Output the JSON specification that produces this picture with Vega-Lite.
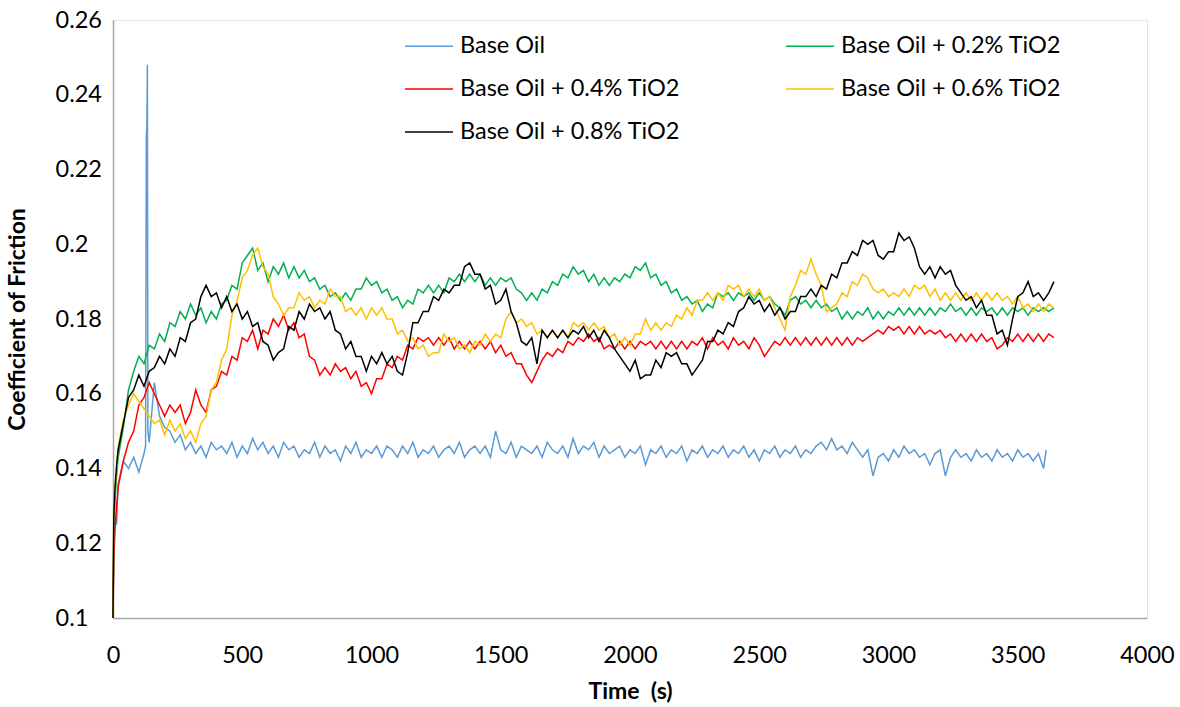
{
  "$schema": "https://vega.github.io/schema/vega-lite/v6.json",
  "width": 1034,
  "height": 598,
  "autosize": {"type": "none"},
  "padding": {"left": 113, "top": 20, "right": 33, "bottom": 89},
  "background": "white",
  "config": {"view": {"stroke": "#DCE6F2", "strokeWidth": 1}, "font": "Lato"},
  "data": {"values": [
    {"t":0,"a":0.1,"b":0.1,"c":0.1,"d":0.1,"e":0.1},
    {"t":3,"a":0.118,"b":0.124,"c":0.116,"d":0.125,"e":0.127},
    {"t":8,"a":0.128,"b":0.132,"c":0.124,"d":0.134,"e":0.135},
    {"t":14,"a":0.125,"b":0.138,"c":0.13,"d":0.14,"e":0.141},
    {"t":20,"a":0.136,"b":0.143,"c":0.135,"d":0.146,"e":0.145},
    {"t":40,"a":0.142,"b":0.151,"c":0.142,"d":0.153,"e":0.152},
    {"t":60,"a":0.140,"b":0.161,"c":0.147,"d":0.157,"e":0.159},
    {"t":80,"a":0.143,"b":0.166,"c":0.150,"d":0.160,"e":0.161},
    {"t":100,"a":0.139,"b":0.170,"c":0.157,"d":0.158,"e":0.165},
    {"t":120,"a":0.144,"b":0.168,"c":0.159,"d":0.156,"e":0.162},
    {"t":126,"a":0.146},
    {"t":129,"a":0.229},
    {"t":131,"a":0.231},
    {"t":133,"a":0.248},
    {"t":135,"a":0.150},
    {"t":140,"a":0.147,"b":0.173,"c":0.163,"d":0.154,"e":0.166},
    {"t":160,"a":0.163,"b":0.172,"c":0.160,"d":0.152,"e":0.167},
    {"t":180,"a":0.154,"b":0.176,"c":0.157,"d":0.153,"e":0.170},
    {"t":200,"a":0.151,"b":0.174,"c":0.154,"d":0.149,"e":0.168},
    {"t":220,"a":0.150,"b":0.179,"c":0.157,"d":0.153,"e":0.172},
    {"t":240,"a":0.147,"b":0.178,"c":0.155,"d":0.150,"e":0.170},
    {"t":260,"a":0.149,"b":0.182,"c":0.157,"d":0.152,"e":0.175},
    {"t":280,"a":0.145,"b":0.180,"c":0.152,"d":0.148,"e":0.174},
    {"t":300,"a":0.147,"b":0.184,"c":0.155,"d":0.150,"e":0.179},
    {"t":320,"a":0.144,"b":0.181,"c":0.161,"d":0.147,"e":0.180},
    {"t":340,"a":0.146,"b":0.183,"c":0.157,"d":0.152,"e":0.186},
    {"t":360,"a":0.143,"b":0.179,"c":0.155,"d":0.154,"e":0.189},
    {"t":380,"a":0.147,"b":0.182,"c":0.161,"d":0.161,"e":0.186},
    {"t":400,"a":0.145,"b":0.180,"c":0.162,"d":0.163,"e":0.187},
    {"t":420,"a":0.146,"b":0.184,"c":0.166,"d":0.169,"e":0.183},
    {"t":440,"a":0.144,"b":0.185,"c":0.165,"d":0.172,"e":0.186},
    {"t":460,"a":0.147,"b":0.189,"c":0.170,"d":0.181,"e":0.182},
    {"t":480,"a":0.143,"b":0.188,"c":0.169,"d":0.185,"e":0.184},
    {"t":500,"a":0.146,"b":0.195,"c":0.175,"d":0.191,"e":0.180},
    {"t":520,"a":0.144,"b":0.197,"c":0.174,"d":0.193,"e":0.182},
    {"t":540,"a":0.148,"b":0.199,"c":0.177,"d":0.197,"e":0.178},
    {"t":560,"a":0.145,"b":0.193,"c":0.172,"d":0.199,"e":0.179},
    {"t":580,"a":0.147,"b":0.195,"c":0.177,"d":0.194,"e":0.174},
    {"t":600,"a":0.144,"b":0.190,"c":0.176,"d":0.192,"e":0.173},
    {"t":620,"a":0.146,"b":0.194,"c":0.180,"d":0.186,"e":0.169},
    {"t":640,"a":0.143,"b":0.192,"c":0.178,"d":0.184,"e":0.171},
    {"t":660,"a":0.147,"b":0.195,"c":0.181,"d":0.181,"e":0.172},
    {"t":680,"a":0.145,"b":0.191,"c":0.177,"d":0.183,"e":0.178},
    {"t":700,"a":0.146,"b":0.194,"c":0.179,"d":0.183,"e":0.177},
    {"t":720,"a":0.143,"b":0.191,"c":0.175,"d":0.187,"e":0.182},
    {"t":740,"a":0.145,"b":0.193,"c":0.176,"d":0.185,"e":0.180},
    {"t":760,"a":0.144,"b":0.190,"c":0.170,"d":0.186,"e":0.184},
    {"t":780,"a":0.147,"b":0.191,"c":0.169,"d":0.183,"e":0.182},
    {"t":800,"a":0.143,"b":0.188,"c":0.165,"d":0.185,"e":0.183},
    {"t":820,"a":0.146,"b":0.189,"c":0.167,"d":0.184,"e":0.180},
    {"t":840,"a":0.144,"b":0.186,"c":0.165,"d":0.188,"e":0.182},
    {"t":860,"a":0.145,"b":0.187,"c":0.168,"d":0.186,"e":0.177},
    {"t":880,"a":0.142,"b":0.185,"c":0.166,"d":0.186,"e":0.176},
    {"t":900,"a":0.146,"b":0.187,"c":0.167,"d":0.182,"e":0.172},
    {"t":920,"a":0.144,"b":0.185,"c":0.164,"d":0.183,"e":0.174},
    {"t":940,"a":0.147,"b":0.188,"c":0.166,"d":0.181,"e":0.170},
    {"t":960,"a":0.143,"b":0.188,"c":0.162,"d":0.183,"e":0.170},
    {"t":980,"a":0.145,"b":0.191,"c":0.163,"d":0.180,"e":0.166},
    {"t":1000,"a":0.144,"b":0.189,"c":0.160,"d":0.183,"e":0.170},
    {"t":1020,"a":0.146,"b":0.190,"c":0.164,"d":0.181,"e":0.168},
    {"t":1040,"a":0.143,"b":0.187,"c":0.164,"d":0.183,"e":0.171},
    {"t":1060,"a":0.146,"b":0.188,"c":0.168,"d":0.180,"e":0.168},
    {"t":1080,"a":0.145,"b":0.185,"c":0.167,"d":0.180,"e":0.170},
    {"t":1100,"a":0.143,"b":0.186,"c":0.170,"d":0.176,"e":0.166},
    {"t":1120,"a":0.146,"b":0.183,"c":0.169,"d":0.177,"e":0.165},
    {"t":1140,"a":0.144,"b":0.185,"c":0.173,"d":0.174,"e":0.171},
    {"t":1160,"a":0.147,"b":0.184,"c":0.172,"d":0.175,"e":0.179},
    {"t":1180,"a":0.143,"b":0.188,"c":0.175,"d":0.172,"e":0.179},
    {"t":1200,"a":0.145,"b":0.187,"c":0.174,"d":0.173,"e":0.182},
    {"t":1220,"a":0.144,"b":0.189,"c":0.175,"d":0.170,"e":0.182},
    {"t":1240,"a":0.146,"b":0.187,"c":0.173,"d":0.171,"e":0.186},
    {"t":1260,"a":0.143,"b":0.189,"c":0.175,"d":0.171,"e":0.185},
    {"t":1280,"a":0.145,"b":0.187,"c":0.173,"d":0.176,"e":0.188},
    {"t":1300,"a":0.146,"b":0.191,"c":0.175,"d":0.174,"e":0.187},
    {"t":1320,"a":0.144,"b":0.190,"c":0.172,"d":0.175,"e":0.189},
    {"t":1340,"a":0.147,"b":0.192,"c":0.174,"d":0.172,"e":0.189},
    {"t":1360,"a":0.143,"b":0.190,"c":0.172,"d":0.173,"e":0.194},
    {"t":1380,"a":0.145,"b":0.192,"c":0.174,"d":0.171,"e":0.195},
    {"t":1400,"a":0.146,"b":0.190,"c":0.172,"d":0.174,"e":0.192},
    {"t":1420,"a":0.144,"b":0.192,"c":0.174,"d":0.173,"e":0.192},
    {"t":1440,"a":0.146,"b":0.189,"c":0.172,"d":0.176,"e":0.188},
    {"t":1460,"a":0.143,"b":0.191,"c":0.174,"d":0.174,"e":0.189},
    {"t":1480,"a":0.150,"b":0.189,"c":0.171,"d":0.176,"e":0.184},
    {"t":1500,"a":0.145,"b":0.191,"c":0.173,"d":0.175,"e":0.185},
    {"t":1520,"a":0.144,"b":0.190,"c":0.170,"d":0.180,"e":0.188},
    {"t":1540,"a":0.147,"b":0.191,"c":0.171,"d":0.182,"e":0.182},
    {"t":1560,"a":0.143,"b":0.188,"c":0.168,"d":0.179,"e":0.179},
    {"t":1580,"a":0.146,"b":0.187,"c":0.168,"d":0.180,"e":0.174},
    {"t":1600,"a":0.145,"b":0.185,"c":0.165,"d":0.178,"e":0.173},
    {"t":1620,"a":0.144,"b":0.187,"c":0.163,"d":0.179,"e":0.175},
    {"t":1640,"a":0.146,"b":0.185,"c":0.166,"d":0.176,"e":0.168},
    {"t":1660,"a":0.143,"b":0.188,"c":0.169,"d":0.177,"e":0.177},
    {"t":1680,"a":0.147,"b":0.187,"c":0.171,"d":0.175,"e":0.175},
    {"t":1700,"a":0.145,"b":0.190,"c":0.170,"d":0.177,"e":0.177},
    {"t":1720,"a":0.144,"b":0.189,"c":0.172,"d":0.175,"e":0.175},
    {"t":1740,"a":0.146,"b":0.192,"c":0.171,"d":0.177,"e":0.177},
    {"t":1760,"a":0.143,"b":0.191,"c":0.174,"d":0.175,"e":0.175},
    {"t":1780,"a":0.148,"b":0.194,"c":0.173,"d":0.179,"e":0.177},
    {"t":1800,"a":0.144,"b":0.192,"c":0.175,"d":0.178,"e":0.176},
    {"t":1820,"a":0.146,"b":0.193,"c":0.174,"d":0.179,"e":0.178},
    {"t":1840,"a":0.145,"b":0.190,"c":0.176,"d":0.177,"e":0.175},
    {"t":1860,"a":0.147,"b":0.192,"c":0.174,"d":0.179,"e":0.177},
    {"t":1880,"a":0.143,"b":0.189,"c":0.175,"d":0.177,"e":0.174},
    {"t":1900,"a":0.146,"b":0.191,"c":0.172,"d":0.178,"e":0.177},
    {"t":1920,"a":0.144,"b":0.189,"c":0.173,"d":0.175,"e":0.175},
    {"t":1940,"a":0.145,"b":0.191,"c":0.172,"d":0.176,"e":0.172},
    {"t":1960,"a":0.146,"b":0.190,"c":0.174,"d":0.173,"e":0.170},
    {"t":1980,"a":0.143,"b":0.192,"c":0.172,"d":0.175,"e":0.168},
    {"t":2000,"a":0.145,"b":0.191,"c":0.174,"d":0.173,"e":0.166},
    {"t":2020,"a":0.144,"b":0.194,"c":0.172,"d":0.176,"e":0.169},
    {"t":2040,"a":0.146,"b":0.193,"c":0.174,"d":0.176,"e":0.164},
    {"t":2060,"a":0.141,"b":0.195,"c":0.173,"d":0.180,"e":0.165},
    {"t":2080,"a":0.145,"b":0.191,"c":0.174,"d":0.177,"e":0.165},
    {"t":2100,"a":0.144,"b":0.192,"c":0.172,"d":0.179,"e":0.169},
    {"t":2120,"a":0.146,"b":0.189,"c":0.174,"d":0.177,"e":0.167},
    {"t":2140,"a":0.143,"b":0.190,"c":0.172,"d":0.179,"e":0.171},
    {"t":2160,"a":0.145,"b":0.187,"c":0.174,"d":0.178,"e":0.170},
    {"t":2180,"a":0.144,"b":0.188,"c":0.172,"d":0.181,"e":0.171},
    {"t":2200,"a":0.146,"b":0.185,"c":0.174,"d":0.180,"e":0.168},
    {"t":2220,"a":0.142,"b":0.186,"c":0.172,"d":0.183,"e":0.168},
    {"t":2240,"a":0.145,"b":0.184,"c":0.174,"d":0.181,"e":0.165},
    {"t":2260,"a":0.144,"b":0.185,"c":0.173,"d":0.185,"e":0.167},
    {"t":2280,"a":0.146,"b":0.182,"c":0.175,"d":0.185,"e":0.169},
    {"t":2300,"a":0.143,"b":0.184,"c":0.172,"d":0.187,"e":0.174},
    {"t":2320,"a":0.145,"b":0.183,"c":0.175,"d":0.185,"e":0.174},
    {"t":2340,"a":0.144,"b":0.187,"c":0.173,"d":0.187,"e":0.177},
    {"t":2360,"a":0.146,"b":0.186,"c":0.174,"d":0.185,"e":0.176},
    {"t":2380,"a":0.143,"b":0.187,"c":0.172,"d":0.189,"e":0.179},
    {"t":2400,"a":0.145,"b":0.185,"c":0.175,"d":0.188,"e":0.178},
    {"t":2420,"a":0.144,"b":0.187,"c":0.173,"d":0.189,"e":0.182},
    {"t":2440,"a":0.146,"b":0.186,"c":0.174,"d":0.186,"e":0.183},
    {"t":2460,"a":0.143,"b":0.187,"c":0.172,"d":0.188,"e":0.186},
    {"t":2480,"a":0.145,"b":0.185,"c":0.175,"d":0.186,"e":0.184},
    {"t":2500,"a":0.142,"b":0.187,"c":0.173,"d":0.188,"e":0.185},
    {"t":2520,"a":0.145,"b":0.185,"c":0.170,"d":0.185,"e":0.182},
    {"t":2540,"a":0.144,"b":0.186,"c":0.172,"d":0.186,"e":0.184},
    {"t":2560,"a":0.146,"b":0.184,"c":0.174,"d":0.183,"e":0.181},
    {"t":2580,"a":0.143,"b":0.183,"c":0.173,"d":0.180,"e":0.183},
    {"t":2600,"a":0.145,"b":0.181,"c":0.175,"d":0.177,"e":0.180},
    {"t":2620,"a":0.144,"b":0.185,"c":0.173,"d":0.186,"e":0.182},
    {"t":2640,"a":0.146,"b":0.186,"c":0.175,"d":0.189,"e":0.182},
    {"t":2660,"a":0.143,"b":0.184,"c":0.173,"d":0.193,"e":0.186},
    {"t":2680,"a":0.145,"b":0.185,"c":0.175,"d":0.192,"e":0.186},
    {"t":2700,"a":0.144,"b":0.183,"c":0.173,"d":0.196,"e":0.188},
    {"t":2720,"a":0.146,"b":0.185,"c":0.175,"d":0.192,"e":0.186},
    {"t":2740,"a":0.147,"b":0.183,"c":0.173,"d":0.189,"e":0.189},
    {"t":2760,"a":0.145,"b":0.184,"c":0.175,"d":0.182,"e":0.188},
    {"t":2780,"a":0.148,"b":0.182,"c":0.173,"d":0.183,"e":0.192},
    {"t":2800,"a":0.145,"b":0.183,"c":0.175,"d":0.184,"e":0.191},
    {"t":2820,"a":0.146,"b":0.180,"c":0.173,"d":0.187,"e":0.195},
    {"t":2840,"a":0.144,"b":0.182,"c":0.175,"d":0.186,"e":0.195},
    {"t":2860,"a":0.147,"b":0.180,"c":0.173,"d":0.190,"e":0.198},
    {"t":2880,"a":0.145,"b":0.182,"c":0.175,"d":0.189,"e":0.197},
    {"t":2900,"a":0.143,"b":0.181,"c":0.174,"d":0.192,"e":0.201},
    {"t":2920,"a":0.145,"b":0.183,"c":0.175,"d":0.191,"e":0.200},
    {"t":2940,"a":0.138,"b":0.180,"c":0.176,"d":0.188,"e":0.201},
    {"t":2960,"a":0.143,"b":0.182,"c":0.177,"d":0.187,"e":0.197},
    {"t":2980,"a":0.144,"b":0.180,"c":0.176,"d":0.188,"e":0.196},
    {"t":3000,"a":0.142,"b":0.182,"c":0.178,"d":0.186,"e":0.198},
    {"t":3020,"a":0.145,"b":0.181,"c":0.177,"d":0.187,"e":0.198},
    {"t":3040,"a":0.143,"b":0.183,"c":0.178,"d":0.186,"e":0.203},
    {"t":3060,"a":0.146,"b":0.181,"c":0.176,"d":0.188,"e":0.201},
    {"t":3080,"a":0.144,"b":0.183,"c":0.178,"d":0.186,"e":0.202},
    {"t":3100,"a":0.145,"b":0.181,"c":0.176,"d":0.189,"e":0.199},
    {"t":3120,"a":0.143,"b":0.183,"c":0.178,"d":0.188,"e":0.194},
    {"t":3140,"a":0.144,"b":0.181,"c":0.176,"d":0.189,"e":0.192},
    {"t":3160,"a":0.141,"b":0.183,"c":0.177,"d":0.186,"e":0.194},
    {"t":3180,"a":0.144,"b":0.181,"c":0.176,"d":0.188,"e":0.191},
    {"t":3200,"a":0.145,"b":0.183,"c":0.177,"d":0.185,"e":0.194},
    {"t":3220,"a":0.138,"b":0.182,"c":0.175,"d":0.187,"e":0.192},
    {"t":3240,"a":0.143,"b":0.184,"c":0.176,"d":0.185,"e":0.193},
    {"t":3260,"a":0.145,"b":0.182,"c":0.174,"d":0.187,"e":0.189},
    {"t":3280,"a":0.143,"b":0.183,"c":0.176,"d":0.185,"e":0.187},
    {"t":3300,"a":0.144,"b":0.181,"c":0.174,"d":0.187,"e":0.185},
    {"t":3320,"a":0.142,"b":0.183,"c":0.176,"d":0.185,"e":0.186},
    {"t":3340,"a":0.145,"b":0.181,"c":0.174,"d":0.187,"e":0.183},
    {"t":3360,"a":0.143,"b":0.183,"c":0.176,"d":0.185,"e":0.185},
    {"t":3380,"a":0.144,"b":0.182,"c":0.174,"d":0.187,"e":0.181},
    {"t":3400,"a":0.142,"b":0.183,"c":0.175,"d":0.185,"e":0.181},
    {"t":3420,"a":0.145,"b":0.181,"c":0.172,"d":0.187,"e":0.176},
    {"t":3440,"a":0.143,"b":0.183,"c":0.173,"d":0.185,"e":0.177},
    {"t":3460,"a":0.144,"b":0.181,"c":0.175,"d":0.186,"e":0.173},
    {"t":3480,"a":0.142,"b":0.183,"c":0.174,"d":0.184,"e":0.180},
    {"t":3500,"a":0.145,"b":0.182,"c":0.176,"d":0.186,"e":0.186},
    {"t":3520,"a":0.143,"b":0.183,"c":0.174,"d":0.183,"e":0.187},
    {"t":3540,"a":0.144,"b":0.181,"c":0.176,"d":0.184,"e":0.190},
    {"t":3560,"a":0.142,"b":0.183,"c":0.174,"d":0.182,"e":0.186},
    {"t":3580,"a":0.144,"b":0.182,"c":0.176,"d":0.184,"e":0.187},
    {"t":3600,"a":0.140,"b":0.183,"c":0.174,"d":0.182,"e":0.185},
    {"t":3610,"a":0.145},
    {"t":3620,"b":0.182,"c":0.176,"d":0.184,"e":0.187},
    {"t":3640,"b":0.183,"c":0.175,"d":0.183,"e":0.190}
  ]},
  "transform": [
    {"fold": ["a", "b", "c", "d", "e"], "as": ["s", "v"]},
    {"filter": "isValid(datum.v)"}
  ],
  "mark": {"type": "line", "strokeWidth": 1.5},
  "encoding": {
    "x": {
      "field": "t", "type": "quantitative",
      "scale": {"domain": [0, 4000], "nice": false},
      "axis": {
        "values": [0, 500, 1000, 1500, 2000, 2500, 3000, 3500, 4000],
        "format": "d",
        "title": "Time \u00a0(s)",
        "grid": false, "ticks": false, "tickSize": 0,
        "domainColor": "#A6A6A6", "domainWidth": 1.5,
        "labelFontSize": 23.5, "labelColor": "#000000", "labelPadding": 25,
        "labelFlush": false,
        "titleFontSize": 23, "titleFontWeight": "bold", "titleColor": "#000000", "titlePadding": 14
      }
    },
    "y": {
      "field": "v", "type": "quantitative",
      "scale": {"domain": [0.1, 0.26], "nice": false, "zero": false},
      "axis": {
        "values": [0.1, 0.12, 0.14, 0.16, 0.18, 0.2, 0.22, 0.24, 0.26],
        "format": "~g",
        "title": "Coefficient of Friction",
        "grid": false, "ticks": false, "tickSize": 0,
        "domainColor": "#A6A6A6", "domainWidth": 1.5,
        "labelFontSize": 23.5, "labelColor": "#000000", "labelPadding": 58, "labelAlign": "left",
        "labelFlush": false,
        "titleFontSize": 23, "titleFontWeight": "bold", "titleColor": "#000000", "titlePadding": 26
      }
    },
    "color": {
      "field": "s", "type": "nominal",
      "scale": {"domain": ["a", "b", "c", "d", "e"], "range": ["#5B9BD5", "#00B050", "#FF0000", "#FFC000", "#000000"]},
      "legend": {
        "orient": "none", "legendX": 291, "legendY": 1,
        "direction": "horizontal",
        "columns": 2, "title": null, "padding": 0,
        "symbolType": "stroke", "symbolSize": 2304, "symbolStrokeWidth": 1.5,
        "labelFontSize": 23.5, "labelColor": "#000000", "labelOffset": 6, "labelLimit": 400,
        "rowPadding": 6, "columnPadding": 102,
        "labelExpr": "datum.value == 'a' ? 'Base Oil' : datum.value == 'b' ? 'Base Oil + 0.2% TiO2' : datum.value == 'c' ? 'Base Oil + 0.4% TiO2' : datum.value == 'd' ? 'Base Oil + 0.6% TiO2' : 'Base Oil + 0.8% TiO2'"
      }
    }
  }
}
